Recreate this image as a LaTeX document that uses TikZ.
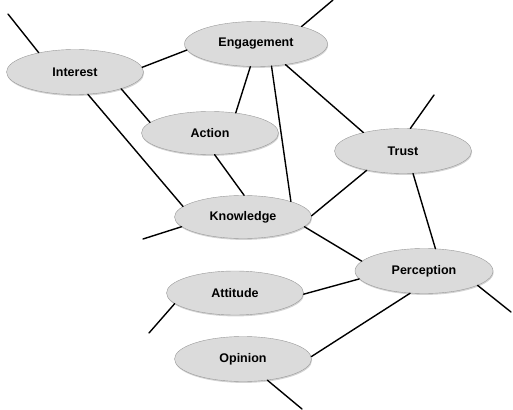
\documentclass[tikz,border=0pt]{standalone}
\usepackage{fontspec}
\setsansfont{Liberation Sans}
\usetikzlibrary{shapes.geometric,shadows}
\begin{document}
\begin{tikzpicture}[x=1pt,y=-1pt,
  topic/.style={draw=black!40,ellipse,fill=black!14,inner sep=0pt,
    minimum width=137pt,minimum height=45pt,
    drop shadow={shadow xshift=0.6pt,shadow yshift=-1.4pt,opacity=0.35},
    font=\sffamily\bfseries\fontsize{12.5}{14}\selectfont},
  link/.style={line width=1.4pt,line cap=round}]
\useasboundingbox (0,0) rectangle (513,409);
\node[topic] (interest) at (75,72) {Interest};
\node[topic,minimum width=143pt] (engage) at (256,44) {Engagement};
\node[topic,minimum height=43pt] (action) at (210,133) {Action};
\node[topic] (trust) at (403,151) {Trust};
\node[topic,minimum height=43pt] (know) at (243,217) {Knowledge};
\node[topic,minimum height=44pt] (attitude) at (235,293) {Attitude};
\node[topic] (opinion) at (243,359) {Opinion};
\node[topic,minimum width=138pt] (percep) at (424,271) {Perception};
% loose ends
\coordinate (f1) at (8,14);
\coordinate (f2) at (333,0);
\coordinate (f3) at (434,95);
\coordinate (f4) at (143,239);
\coordinate (f5) at (149,333);
\coordinate (f6) at (302,409);
\coordinate (f7) at (511,312);
\draw[link] (interest.152) -- (f1);
\draw[link] (interest.4) -- (engage.185);
\draw[link] (interest.-20) -- (action.170);
\draw[link] (interest.-60) -- (know.170);
\draw[link] (engage.256) -- (action.38);
\draw[link] (engage.21) -- (f2);
\draw[link] (engage.-55) -- (know.18);
\draw[link] (engage.-35) -- (trust.155);
\draw[link] (trust.72) -- (f3);
\draw[link] (trust.208) -- (know.1);
\draw[link] (trust.-66) -- (percep.63);
\draw[link] (action.-78) -- (know.87);
\draw[link] (know.189) -- (f4);
\draw[link] (know.-9) -- (percep.171);
\draw[link] (attitude.-1) -- (percep.187);
\draw[link] (attitude.190) -- (f5);
\draw[link] (opinion.2) -- (percep.238);
\draw[link] (opinion.-41) -- (f6);
\draw[link] (percep.-15) -- (f7);
\end{tikzpicture}
\end{document}
